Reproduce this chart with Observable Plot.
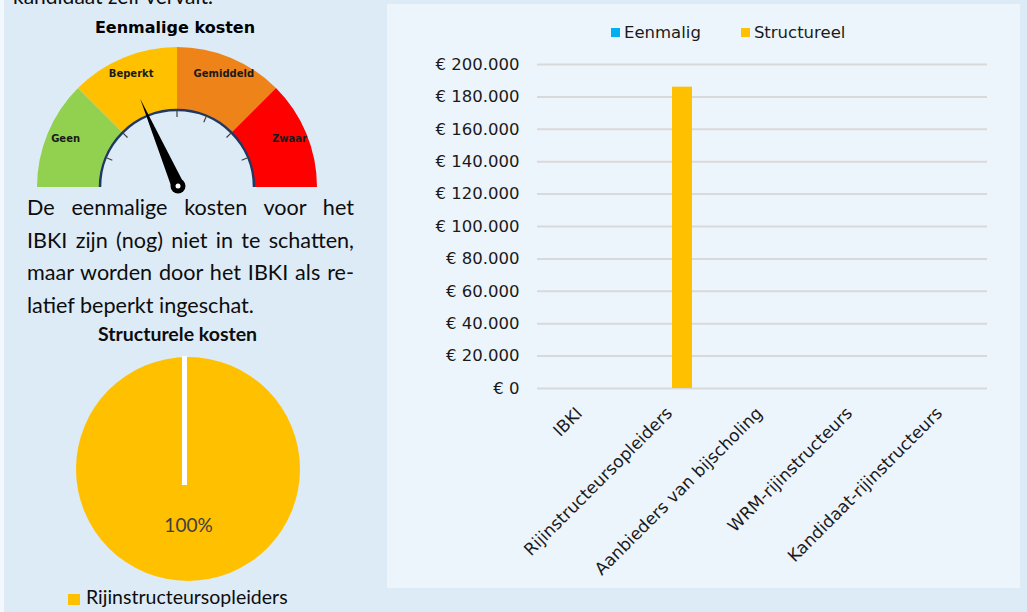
<!DOCTYPE html>
<html><head><meta charset="utf-8">
<script src="https://cdn.jsdelivr.net/npm/d3@7"></script>
<script src="https://cdn.jsdelivr.net/npm/@observablehq/plot@0.6"></script>
<style>
html,body{margin:0;padding:0;}
body{width:1027px;height:612px;background:#DDEBF7;position:relative;overflow:hidden;font-family:Lato,sans-serif;color:#0d0d0d;}
.abs{position:absolute;}
.line{white-space:nowrap;text-align:justify;text-align-last:justify;}
.line.last{text-align-last:left;}
</style></head><body>
<div class="abs" style="left:0;top:0;width:4px;height:612px;background:#F2F8FD"></div>
<div id="cut" class="abs" style="left:13px;top:-16.7px;font-size:21px;line-height:1.2;">kandidaat zelf vervalt.</div>
<div id="gaugeTitle" class="abs" style="left:0;width:350px;top:19.4px;text-align:center;font-family:'DejaVu Sans';font-weight:bold;font-size:16px;line-height:18.6px;color:#000">Eenmalige kosten</div>
<div id="gauge" class="abs" style="left:0;top:0"></div>
<div id="desc" class="abs" style="left:27px;top:191px;width:327px;font-size:21.6px;line-height:32.7px;"></div>
<div id="pieTitle" class="abs" style="left:0;width:355px;top:321.5px;text-align:center;font-weight:bold;font-size:19.5px;line-height:1.2;">Structurele kosten</div>
<div id="pie" class="abs" style="left:0;top:345px"></div>
<div id="pieLegend" class="abs" style="left:68px;top:584.8px;font-size:19.5px;line-height:1.2;"></div>
<div id="panel" class="abs" style="left:387px;top:4px;width:633px;height:584px;background:#EDF5FC">
  <div id="legend" class="abs" style="left:224px;top:19px;font-family:'DejaVu Sans';font-size:16.5px;line-height:20px;color:#1a1a1a;white-space:nowrap"></div>
  <div id="bars" class="abs" style="left:0;top:48px"></div>
</div>
<script>
// ---------- data ----------
const descLines = [
  "De eenmalige kosten voor het",
  "IBKI zijn (nog) niet in te schatten,",
  "maar worden door het IBKI als re-",
  "latief beperkt ingeschat."
];
const gaugeLevels = ["Geen", "Beperkt", "Gemiddeld", "Zwaar"];
const gaugeColors = ["#92D050", "#FFC000", "#EE8419", "#FF0000"];
const gaugeTicks = [0.5, 1, 1.5, 2, 2.5, 3, 3.5];
const gaugeNeedle = 1.48; // position on the 0..4 level scale

const pieLabels = ["Rijinstructeursopleiders"];
const pieValues = [186000];
const pieColors = ["#FFC000"];

const categories = ["IBKI", "Rijinstructeursopleiders", "Aanbieders van bijscholing", "WRM-rijinstructeurs", "Kandidaat-rijinstructeurs"];
const series = ["Eenmalig", "Structureel"];
const seriesColors = ["#00B0F0", "#FFC000"];
const eenmalig = [0, 0, 0, 0, 0];
const structureel = [0, 186000, 0, 0, 0];
const yTicks = [0, 20000, 40000, 60000, 80000, 100000, 120000, 140000, 160000, 180000, 200000];

// ---------- description ----------
const desc = document.getElementById("desc");
descLines.forEach((t, i) => {
  const d = document.createElement("div");
  d.className = "line" + (i === descLines.length - 1 ? " last" : "");
  d.textContent = t;
  desc.appendChild(d);
});

// ---------- gauge ----------
const deg = Math.PI / 180;
const span = 180 / gaugeLevels.length;
const rInner = 0.55, rLabel = 0.865, rNeedle = 0.68;
function gaugeMark(index, {x, y}) {
  const cx = x(0), cy = y(0), R = x(1) - x(0);
  const g = d3.create("svg:g");
  gaugeLevels.forEach((lvl, i) => {
    g.append("path").attr("transform", `translate(${cx},${cy})`)
      .attr("d", d3.arc()({innerRadius: R * rInner, outerRadius: R, startAngle: (-90 + span * i) * deg, endAngle: (-90 + span * (i + 1)) * deg}))
      .attr("fill", gaugeColors[i]);
  });
  const ri = R * rInner;
  g.append("path").attr("d", `M${cx - ri},${cy} A${ri},${ri} 0 0 1 ${cx + ri},${cy}`)
    .attr("fill", "none").attr("stroke", "#1F3864").attr("stroke-width", 2.5);
  gaugeTicks.forEach(t => {
    const th = (180 - span * t) * deg;
    g.append("line")
      .attr("x1", cx + ri * Math.cos(th)).attr("y1", cy - ri * Math.sin(th))
      .attr("x2", cx + (ri - 7) * Math.cos(th)).attr("y2", cy - (ri - 7) * Math.sin(th))
      .attr("stroke", "#404040").attr("stroke-width", 1.2);
  });
  const th = (180 - span * gaugeNeedle) * deg;
  const L = R * rNeedle, w = 6.5;
  const px = cx + 1, py = cy - 1;
  const tip = [px + L * Math.cos(th), py - L * Math.sin(th)];
  const p1 = [px + w * Math.cos(th + Math.PI / 2), py - w * Math.sin(th + Math.PI / 2)];
  const p2 = [px + w * Math.cos(th - Math.PI / 2), py - w * Math.sin(th - Math.PI / 2)];
  g.append("path").attr("d", `M${tip}L${p1}L${p2}Z`).attr("fill", "#000");
  g.append("circle").attr("cx", px).attr("cy", py).attr("r", 7.5).attr("fill", "#000");
  g.append("circle").attr("cx", px).attr("cy", py).attr("r", 2.5).attr("fill", "#fff");
  return g.node();
}
const gauge = Plot.plot({
  width: 380, height: 200, margin: 0,
  style: {background: "transparent", overflow: "visible"},
  x: {domain: [-1, 1], range: [37, 317], axis: null},
  y: {domain: [0, 1], range: [187, 47], axis: null},
  marks: [
    gaugeMark,
    Plot.text(gaugeLevels, {
      x: (d, i) => rLabel * Math.cos((180 - span * (i + 0.5)) * deg),
      y: (d, i) => rLabel * Math.sin((180 - span * (i + 0.5)) * deg),
      dy: -2,
      text: d => d, fontFamily: "DejaVu Sans", fontWeight: "bold", fontSize: 10, fill: "#1a1a1a"
    })
  ]
});
document.getElementById("gauge").appendChild(gauge);

// ---------- pie ----------
const pieTotal = d3.sum(pieValues);
function pieMark(index, {x, y}) {
  const cx = x(0), cy = y(0), R = x(1) - x(0);
  const g = d3.create("svg:g").attr("transform", `translate(${cx},${cy})`);
  const arcs = d3.pie().sort(null)(pieValues);
  arcs.forEach((a, i) => {
    g.append("path").attr("d", d3.arc().innerRadius(0).outerRadius(R)(a)).attr("fill", pieColors[i]);
    g.append("line")
      .attr("x1", R * Math.sin(a.startAngle) - 3.5).attr("y1", -R * Math.cos(a.startAngle) - 1)
      .attr("x2", -16 * Math.sin(a.startAngle) - 3.5).attr("y2", 16 * Math.cos(a.startAngle))
      .attr("stroke", "#fff").attr("stroke-width", 5);
  });
  return g.node();
}
const pieArcs = d3.pie().sort(null)(pieValues);
const pie = Plot.plot({
  width: 380, height: 250, margin: 0,
  style: {background: "transparent", overflow: "visible"},
  x: {domain: [-1, 1], range: [76, 300], axis: null},
  y: {domain: [-1, 1], range: [236, 12], axis: null},
  marks: [
    pieMark,
    Plot.text(pieArcs, {
      x: a => 0.5 * Math.sin((a.startAngle + a.endAngle) / 2),
      y: a => 0.5 * Math.cos((a.startAngle + a.endAngle) / 2),
      text: a => d3.format(".0%")(a.value / pieTotal),
      fontFamily: "Lato", fontSize: 19, fill: "#404040"
    })
  ]
});
document.getElementById("pie").appendChild(pie);
document.getElementById("pieLegend").innerHTML = pieLabels.map((l, i) =>
  `<span style="display:inline-block;width:12px;height:11px;background:${pieColors[i]};margin-right:6px;vertical-align:-1px"></span>${l}`).join("");

// ---------- bar chart ----------
document.getElementById("legend").innerHTML = series.map((s, i) =>
  `<span style="display:inline-block;width:9px;height:9px;background:${seriesColors[i]};margin-right:4px;vertical-align:1px"></span><span style="margin-right:${i === 0 ? 40 : 0}px">${s}</span>`).join("");

const rows = categories.flatMap((c, i) => [
  {cat: c, serie: series[0], v: eenmalig[i]},
  {cat: c, serie: series[1], v: structureel[i]}
]);
const euro = d3.formatLocale({decimal: ",", thousands: ".", grouping: [3], currency: ["€ ", ""]}).format("$,.0f");
const bars = Plot.plot({
  width: 633, height: 536,
  marginLeft: 148, marginRight: 32, marginTop: 12, marginBottom: 200,
  style: {background: "transparent", fontFamily: "DejaVu Sans", fontSize: "16.5px", color: "#1a1a1a", overflow: "visible"},
  fx: {domain: categories, padding: 0, axis: null, label: null},
  x: {domain: series, paddingInner: 0, paddingOuter: 1.157, axis: null},
  y: {domain: [0, 200000], ticks: yTicks, tickFormat: euro, tickSize: 0, tickPadding: 18, label: null},
  color: {domain: series, range: seriesColors},
  marks: [
    Plot.gridY(yTicks, {stroke: "#D9D9D9", strokeWidth: 2, strokeOpacity: 1}),
    Plot.barY(rows, {fx: "cat", x: "serie", y: "v", fill: "serie"}),
    Plot.axisFx({anchor: "bottom", tickRotate: -45, tickSize: 0, tickPadding: 22, dx: -3, fontSize: 17, label: null})
  ]
});
document.getElementById("bars").appendChild(bars);
</script>
</body></html>
